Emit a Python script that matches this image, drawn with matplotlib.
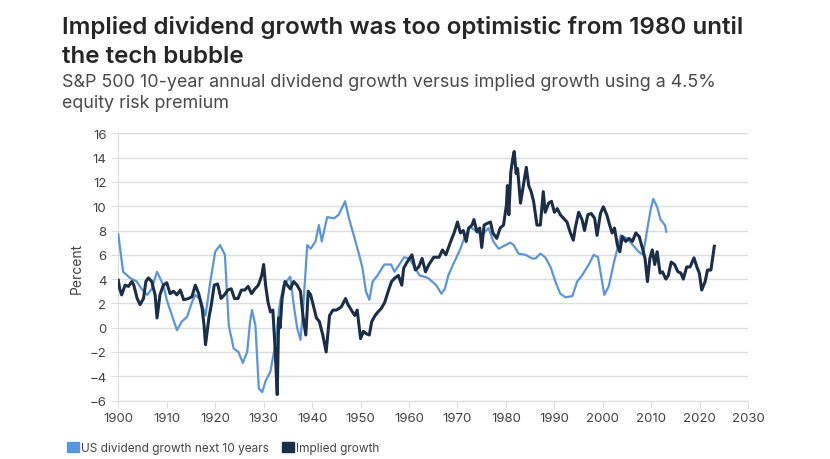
import matplotlib
matplotlib.use("Agg")
import matplotlib.pyplot as plt
from matplotlib.patches import Patch

# US dividend growth next 10 years
div_years = [1900, 1901, 1902.4, 1903.8, 1904.8, 1906, 1906.9, 1908, 1909.3, 1910,
             1910.7, 1912.1, 1913.1, 1914.2, 1915.2, 1915.9, 1917, 1918, 1919, 1920,
             1921, 1922, 1922.8, 1923.8, 1924.8, 1925.7, 1926.6, 1927.2, 1927.6, 1928.3,
             1929, 1929.7, 1930.4, 1931.4, 1932.4, 1933.3, 1934.1, 1935.5, 1936.2, 1936.9,
             1937.6, 1938.1, 1939, 1939.7, 1940.7, 1941.4, 1942, 1943.1, 1944.5, 1945.5,
             1946.8, 1947.6, 1948.6, 1949.7, 1950.4, 1951.1, 1951.8, 1952.5, 1953.5, 1954.9,
             1956.3, 1957, 1958, 1959, 1960.1, 1961.1, 1962.2, 1963.9, 1965.6, 1966.7,
             1967.4, 1968.1, 1969.1, 1970.6, 1971.6, 1972.6, 1974, 1975, 1976.4, 1977.4,
             1978.5, 1979.9, 1980.9, 1981.6, 1982.6, 1984, 1985.4, 1986.1, 1987.1, 1988.1,
             1989.2, 1990.2, 1991.2, 1992.3, 1993.7, 1994.7, 1995.7, 1997.1, 1998.1, 1999,
             1999.5, 2000.3, 2001.2, 2002.3, 2003, 2003.7, 2005, 2006.4, 2007.4, 2008.3,
             2009.2, 2009.9, 2010.4, 2011.2, 2011.9, 2012.8, 2013.1]
div_growth = [7.7, 4.6, 4.1, 3.8, 3.2, 2.7, 3.2, 4.6, 3.5, 2.3,
              1.45, -0.2, 0.5, 0.9, 2.1, 2.7, 2.3, 1.0, 3.8, 6.25,
              6.8, 6.0, 0.2, -1.7, -2.0, -2.9, -2.0, 0.5, 1.45, 0.2,
              -5.0, -5.3, -4.4, -3.6, -1.4, 1.9, 3.5, 4.2, 1.9, 0.0,
              -1.0, 1.3, 6.8, 6.5, 7.1, 8.45, 7.1, 9.1, 9.0, 9.3,
              10.4, 9.0, 7.6, 6.0, 4.9, 3.0, 2.3, 3.8, 4.3, 5.2,
              5.2, 4.6, 5.2, 5.8, 5.7, 5.0, 4.3, 4.1, 3.5, 2.8,
              3.2, 4.3, 5.2, 6.5, 7.6, 8.3, 7.9, 7.6, 8.2, 7.1,
              6.5, 6.8, 7.0, 6.8, 6.1, 6.0, 5.7, 5.7, 6.1, 5.8,
              5.0, 3.8, 2.8, 2.5, 2.6, 3.8, 4.3, 5.2, 6.0, 5.8,
              4.6, 2.7, 3.4, 5.4, 6.5, 7.6, 7.35, 6.7, 6.25, 6.0,
              8.2, 9.8, 10.6, 9.95, 8.9, 8.45, 7.9]

# Implied growth (4.5% equity risk premium)
imp_years = [1900, 1900.3, 1900.7, 1901.4, 1902.1, 1902.8, 1903.2, 1903.9, 1904.5, 1905.2,
             1905.7, 1906.2, 1906.9, 1907.6, 1908, 1908.6, 1909.3, 1910, 1910.7, 1911.4,
             1912.1, 1912.8, 1913.5, 1914.5, 1915.2, 1915.9, 1916.6, 1917.3, 1917.7, 1918,
             1918.7, 1919.2, 1919.8, 1920.5, 1921.2, 1921.9, 1922.6, 1923.3, 1924, 1924.7,
             1925.4, 1926.1, 1926.8, 1927.5, 1928.2, 1928.9, 1929.6, 1930, 1930.4, 1930.9,
             1931.4, 1931.9, 1932.4, 1932.8, 1933.1, 1933.4, 1933.8, 1934.4, 1934.9, 1935.5,
             1936.2, 1936.9, 1937.6, 1938.1, 1938.7, 1939.2, 1939.7, 1940.2, 1940.9, 1941.5,
             1942.2, 1942.9, 1943.6, 1944.3, 1945, 1946, 1946.9, 1947.4, 1948.1, 1948.8,
             1949.3, 1950, 1950.6, 1951.2, 1951.8, 1952.3, 1953, 1953.6, 1954.3, 1955,
             1955.7, 1956.4, 1957.1, 1957.8, 1958.5, 1958.9, 1959.6, 1960.6, 1961.3, 1962,
             1962.7, 1963.4, 1964.1, 1965.1, 1966.2, 1966.9, 1967.6, 1968.6, 1969.3, 1970,
             1970.6, 1971.2, 1971.8, 1972.3, 1973, 1973.4, 1974, 1974.6, 1975, 1975.5,
             1976.2, 1976.8, 1977.3, 1978.1, 1978.8, 1979.5, 1980.1, 1980.3, 1980.6, 1981,
             1981.4, 1981.7, 1982.1, 1982.4, 1983, 1983.7, 1984.2, 1984.7, 1985.2, 1985.7,
             1986.4, 1987.1, 1987.7, 1988.1, 1988.8, 1989.4, 1990, 1990.6, 1991.2, 1991.9,
             1992.6, 1993.3, 1993.9, 1994.3, 1995, 1995.7, 1996.2, 1996.9, 1997.6, 1998.3,
             1998.8, 1999.5, 2000.1, 2000.8, 2001.4, 2001.9, 2002.4, 2003, 2003.5, 2004,
             2004.7, 2005.4, 2006.1, 2006.8, 2007.5, 2008.2, 2008.7, 2009.2, 2009.7, 2010.2,
             2010.7, 2011.2, 2011.8, 2012.3, 2013, 2013.5, 2014.1, 2014.8, 2015.5, 2016.1,
             2016.6, 2017.3, 2018, 2018.8, 2019.4, 2019.9, 2020.4, 2021.1, 2021.6, 2022.3,
             2022.8, 2023]
imp_growth = [3.9, 3.2, 2.7, 3.5, 3.4, 3.8, 3.5, 2.4, 1.9, 2.4,
              3.8, 4.1, 3.8, 2.7, 0.8, 2.7, 3.5, 3.7, 2.8, 3.0,
              2.7, 3.1, 2.3, 2.4, 2.55, 3.5, 2.8, 1.6, 0.2, -1.4,
              0.8, 1.9, 3.5, 3.6, 2.4, 2.7, 3.1, 3.2, 2.4, 2.4,
              3.1, 3.1, 3.4, 2.8, 3.2, 3.5, 4.3, 5.2, 3.5, 2.1,
              1.3, 1.45, -2.0, -5.5, 0.8, 0.0, 2.4, 3.8, 3.5, 3.2,
              3.8, 3.5, 3.0, 1.0, -0.6, 3.0, 2.7, 1.9, 0.8, 0.5,
              -0.6, -2.0, 1.0, 1.45, 1.45, 1.7, 2.4, 1.9, 1.45, 1.0,
              1.45, -0.9, -0.3, -0.5, -0.6, 0.5, 1.0, 1.3, 1.6, 2.1,
              3.0, 3.8, 4.1, 4.3, 3.5, 4.9, 5.4, 6.0, 4.75, 5.0,
              5.7, 4.6, 5.2, 5.8, 5.8, 6.4, 6.0, 7.1, 7.8, 8.7,
              7.8, 8.0, 7.1, 8.2, 8.45, 8.9, 7.9, 8.2, 6.6, 8.45,
              8.6, 8.7, 7.8, 7.35, 8.2, 8.45, 10.1, 11.7, 9.3, 12.8,
              13.9, 14.5, 12.7, 13.1, 10.25, 12.0, 13.2, 11.7, 11.2, 10.4,
              8.45, 8.45, 11.2, 9.5, 10.25, 10.4, 9.5, 9.8, 9.3, 9.0,
              8.7, 7.8, 7.2, 8.2, 9.5, 8.9, 8.0, 9.3, 9.4, 9.0,
              7.6, 9.4, 9.95, 9.3, 8.45, 7.8, 8.2, 6.8, 6.25, 7.5,
              7.1, 7.35, 7.1, 7.8, 7.5, 6.5, 5.7, 3.8, 5.7, 6.4,
              5.2, 6.25, 4.5, 4.6, 4.0, 4.3, 5.4, 5.2, 4.6, 4.5,
              4.0, 5.0, 5.0, 5.75, 5.0, 4.5, 3.1, 3.8, 4.75, 4.75,
              6.1, 6.7]

x_ticks = list(range(1900, 2031, 10))
y_ticks = list(range(-6, 17, 2))

BLUE = "#5b95db"
NAVY = "#1b2d47"
GRID = "#dedede"
TICK_TXT = "#444444"

plt.rcParams["font.family"] = ["Inter", "DejaVu Sans"]

fig = plt.figure(figsize=(8.3, 4.6), dpi=100)
ax = fig.add_axes([0.1425, 0.127, 0.759, 0.581])

ax.plot(div_years, div_growth, color=BLUE, lw=1.6, zorder=3)
ax.plot(imp_years, imp_growth, color=NAVY, lw=2.2, zorder=4)

ax.set_xlim(1900, 2030)
ax.set_ylim(-6, 16)
ax.set_xticks(x_ticks)
ax.set_yticks(y_ticks)
ax.grid(axis="y", color=GRID, lw=1)
ax.set_axisbelow(True)
for side in ["top", "right"]:
    ax.spines[side].set_visible(False)
for side in ["left", "bottom"]:
    ax.spines[side].set_color(GRID)
ax.tick_params(axis="both", colors=GRID, labelcolor=TICK_TXT, labelsize=9.5, length=5)
ax.set_ylabel("Percent", color=TICK_TXT, fontsize=10, labelpad=4)

# title and subtitle, one line at a time
title_kw = dict(fontsize=17.4, fontweight="semibold", color="#262626", va="baseline")
fig.text(0.075, 0.926, "Implied dividend growth was too optimistic from 1980 until", **title_kw)
fig.text(0.075, 0.863, "the tech bubble", **title_kw)
sub_kw = dict(fontsize=12.9, color="#4a4a4a", va="baseline")
fig.text(0.075, 0.811, "S&P 500 10-year annual dividend growth versus implied growth using a 4.5%", **sub_kw)
fig.text(0.075, 0.765, "equity risk premium", **sub_kw)

handles = [Patch(facecolor=BLUE, edgecolor=BLUE), Patch(facecolor=NAVY, edgecolor=NAVY)]
fig.legend(handles, ["US dividend growth next 10 years", "Implied growth"],
           loc="lower left", bbox_to_anchor=(0.068, -0.012), ncol=2, frameon=False,
           fontsize=8.5, handlelength=1.0, handleheight=1.0, handletextpad=0.2,
           columnspacing=1.1, labelcolor=TICK_TXT)

fig.savefig("out.png", dpi=100)
